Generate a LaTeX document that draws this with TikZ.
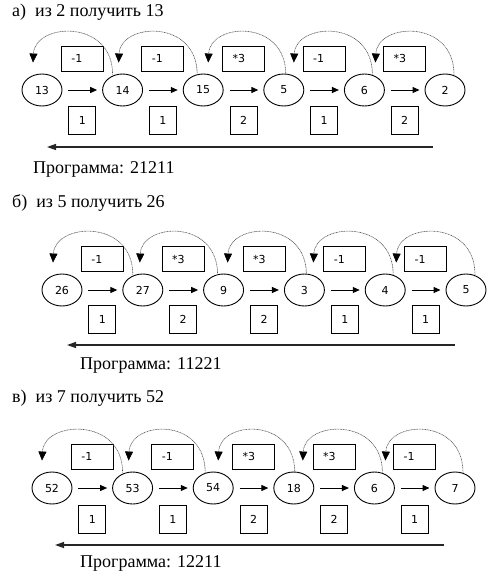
\documentclass[tikz,border=0pt]{standalone}
\usepackage{fontspec}
\setmainfont{Liberation Serif}
\newfontfamily\nodefont{DejaVu Sans}
\usetikzlibrary{arrows.meta,shapes.geometric}
\tikzset{
  ell/.style={ellipse,draw,line width=0.9pt,minimum width=40pt,minimum height=32pt,inner sep=0pt,font=\nodefont\fontsize{11}{11}\selectfont},
  opbox/.style={rectangle,draw,line width=0.9pt,minimum height=25pt,text width=22pt,inner xsep=10pt,inner ysep=0pt,align=left,font=\nodefont\fontsize{11}{11}\selectfont},
  cmdbox/.style={rectangle,draw,line width=0.9pt,minimum width=27pt,minimum height=28pt,inner sep=0pt,font=\nodefont\fontsize{11}{11}\selectfont},
  harr/.style={-{Triangle[length=7pt,width=6pt]},line width=1pt,shorten <=6pt,shorten >=5pt},
  carr/.style={-{Triangle[length=9pt,width=8pt,color=black]},line width=0.6pt,dash pattern=on 1pt off 0.6pt,black!65},
  longarr/.style={{Triangle[length=9pt,width=6pt]}-,line width=1.3pt,black!85},
  ttl/.style={anchor=base west,inner sep=0pt,font=\fontsize{18}{18}\selectfont},
}
\begin{document}
\begin{tikzpicture}[x=1pt,y=-1pt]
\useasboundingbox (0,0) rectangle (500,578);
% ---------- a ----------
\node[ttl] (ta) at (12,17) {а)\ \ из 2 получить 13};
\foreach \v [count=\i] in {13,14,15,5,6,2}
  \node[ell] (a\i) at ({42+80.6*(\i-1)},90) {\v};
\foreach \t [count=\i] in {-1,-1,*3,-1,*3}
  \node[opbox] (ao\i) at ({42+80.6*(\i-0.5)},58.5) {\t};
\foreach \t [count=\i] in {1,1,2,1,2}
  \node[cmdbox] (ac\i) at ({42+80.6*(\i-0.5)},120) {\t};
\foreach \i/\j/\s/\e in {1/2/-10/-9,2/3/-6/-4,3/4/2/5,4/5/8/10,5/6/9/11} {
  \draw[harr] (a\i) -- (a\j);
  \draw[carr] ([xshift=\s pt,yshift=-1pt]a\j.north) .. controls +(0,-56) and +(2,-40) .. ([xshift=\e pt,yshift=11pt]a\i.north);
}
\coordinate (al) at (47,147);
\coordinate (ar) at (433,147);
\draw[longarr] (al) -- (ar);
\node[ttl] (pa) at (33,173) {Программа: 21211};
% ---------- b ----------
\node[ttl] (tb) at (12,207) {б)\ \ из 5 получить 26};
\foreach \v [count=\i] in {26,27,9,3,4,5}
  \node[ell] (b\i) at ({62+80.8*(\i-1)},290) {\v};
\foreach \t [count=\i] in {-1,*3,*3,-1,-1}
  \node[opbox] (bo\i) at ({62+80.8*(\i-0.5)},259) {\t};
\foreach \t [count=\i] in {1,2,2,1,1}
  \node[cmdbox] (bc\i) at ({62+80.8*(\i-0.5)},319) {\t};
\foreach \i/\j/\s/\e in {1/2/-10/-9,2/3/-6/-3,3/4/2/4,4/5/8/9,5/6/9/11} {
  \draw[harr] (b\i) -- (b\j);
  \draw[carr] ([xshift=\s pt,yshift=-1pt]b\j.north) .. controls +(0,-56) and +(2,-40) .. ([xshift=\e pt,yshift=11pt]b\i.north);
}
\coordinate (bl) at (67,345);
\coordinate (br) at (455,345);
\draw[longarr] (bl) -- (br);
\node[ttl] (pb) at (80,369) {Программа: 11221};
% ---------- c ----------
\node[ttl] (tc) at (12,402) {в)\ \ из 7 получить 52};
\foreach \v [count=\i] in {52,53,54,18,6,7}
  \node[ell] (c\i) at ({52+80.6*(\i-1)},488) {\v};
\foreach \t [count=\i] in {-1,-1,*3,*3,-1}
  \node[opbox] (co\i) at ({52+80.6*(\i-0.5)},456.5) {\t};
\foreach \t [count=\i] in {1,1,2,2,1}
  \node[cmdbox] (cc\i) at ({52+80.6*(\i-0.5)},519) {\t};
\foreach \i/\j/\s/\e in {1/2/-10/-10,2/3/-8/-4,3/4/1/5,4/5/8/9,5/6/8/11} {
  \draw[harr] (c\i) -- (c\j);
  \draw[carr] ([xshift=\s pt,yshift=-1pt]c\j.north) .. controls +(0,-56) and +(2,-40) .. ([xshift=\e pt,yshift=11pt]c\i.north);
}
\coordinate (cl) at (55,545);
\coordinate (cr) at (444,545);
\draw[longarr] (cl) -- (cr);
\node[ttl] (pc) at (80,567) {Программа: 12211};
\end{tikzpicture}
\end{document}
